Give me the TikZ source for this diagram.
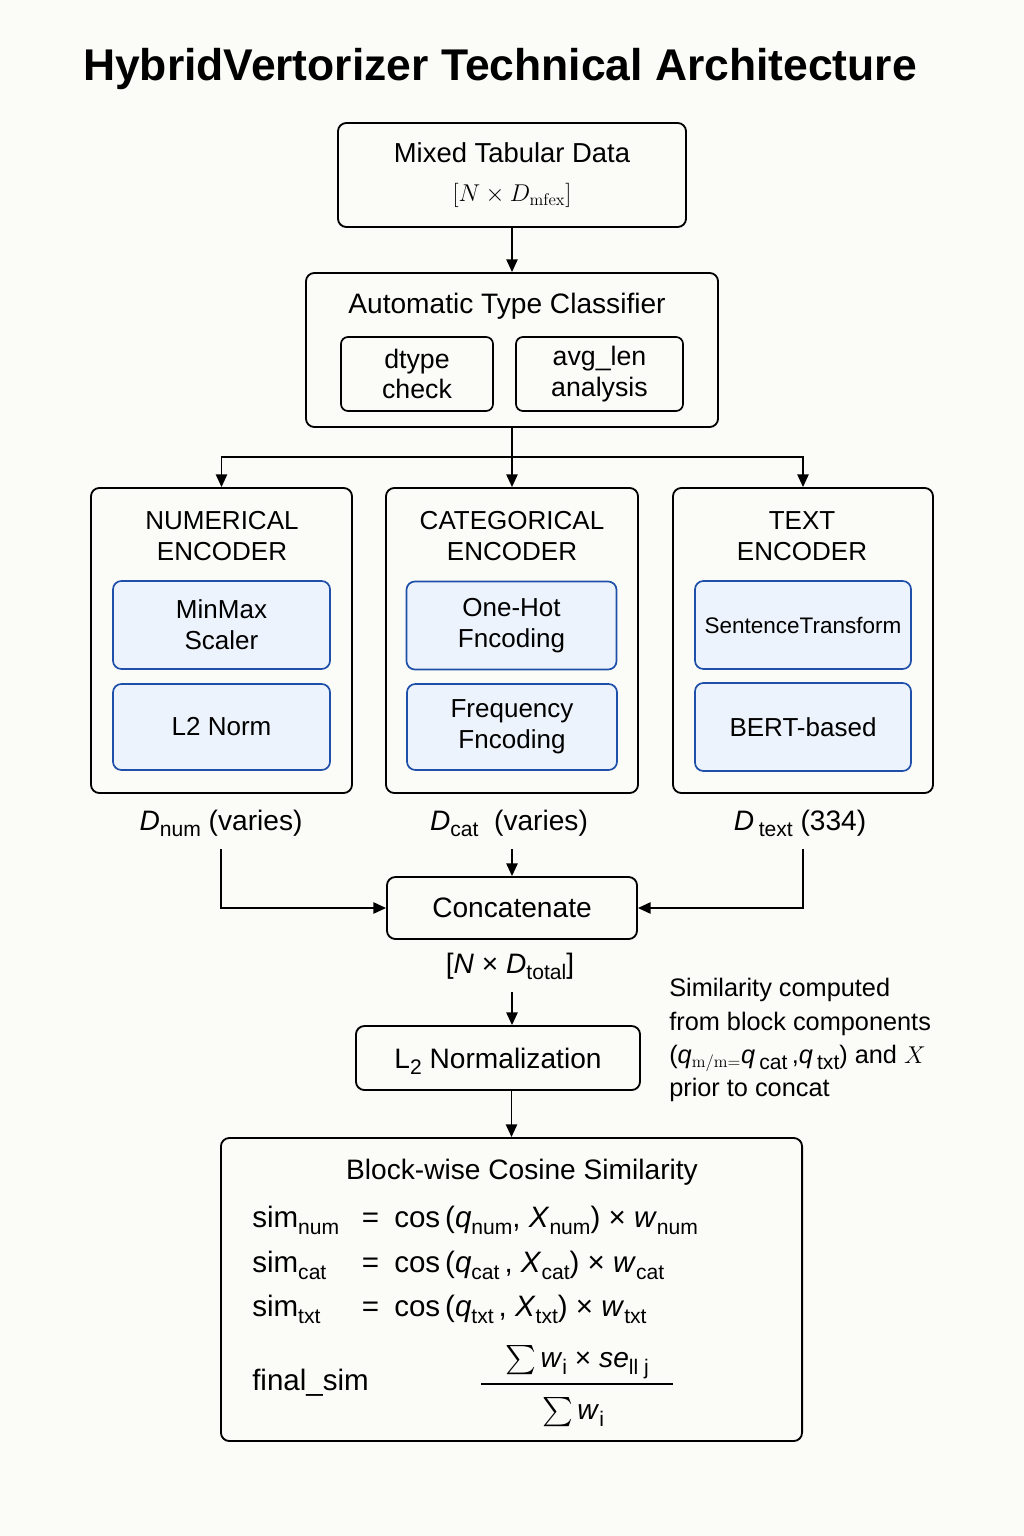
\documentclass[tikz,border=0pt]{standalone}
\usepackage{amsmath}
\usepackage[no-math]{fontspec}
\setmainfont{Liberation Sans}
\usetikzlibrary{arrows.meta,positioning}

\definecolor{paper}{RGB}{251,251,248}
\definecolor{encblue}{RGB}{30,80,170}
\definecolor{encfill}{RGB}{237,243,252}

% lowered subscript as in the drawing
\newcommand{\lo}[1]{\raisebox{-0.45ex}[0.6em][0pt]{\fontsize{15}{15}\selectfont #1}}
\newcommand{\bigsum}{\smash{$\textstyle\sum$}\,}

\tikzset{
  box/.style={draw, line width=1.3pt, rounded corners=6pt, align=center, inner sep=0pt},
  subbox/.style={box, line width=1.2pt, rounded corners=5pt},
  encbox/.style={draw=encblue, fill=encfill, line width=1.2pt, rounded corners=6pt, align=center,
    minimum height=2.2cm, font=\fontsize{18.5}{22}\selectfont},
  arr/.style={-{Triangle[length=9pt,width=8pt]}, line width=1.2pt},
  lbl/.style={font=\fontsize{20}{24}\selectfont, inner sep=1pt},
  eqline/.style={anchor=west, inner sep=0pt, font=\fontsize{21}{24}\selectfont},
}

\begin{document}
\begin{tikzpicture}[x=0.025cm, y=-0.025cm]
    \fill[paper] (0,0) rectangle (1024,1536);
    \useasboundingbox (0,0) rectangle (1024,1536);

    \node[font=\bfseries\fontsize{31.6}{36}\selectfont] (title) at (500,69) {HybridVertorizer Technical Architecture};

    % input and classifier
    \node[box, minimum width=8.7cm, minimum height=2.6cm, font=\fontsize{19.5}{23}\selectfont] (data) at (512,175)
        {Mixed Tabular Data\\[5pt] {\fontsize{18}{22}\selectfont $[N\times D_{\mathrm{mfex}}]$}};
    \node[box, minimum width=10.3cm, minimum height=3.85cm] (classifier) at (512,350) {};
    \node[font=\fontsize{20}{24}\selectfont] (clstitle) at (507,306) {Automatic Type Classifier};
    \node[subbox, minimum width=3.8cm, minimum height=1.85cm, font=\fontsize{19}{21.5}\selectfont] (dtype) at (417,374) {dtype\\check};
    \node[subbox, minimum width=4.175cm, minimum height=1.85cm, font=\fontsize{19}{21.5}\selectfont] (avglen) at (599.5,374) {avg\_len\\analysis};
    \draw[arr] (data) -- (classifier);

    % encoders
    \node[box, minimum width=6.525cm, minimum height=7.625cm] (numenc) at (221.5,640.5) {};
    \node[box, minimum width=6.3cm, minimum height=7.625cm] (catenc) at (512,640.5) {};
    \node[box, minimum width=6.5cm, minimum height=7.625cm] (txtenc) at (803,640.5) {};
    \node[font=\fontsize{18.5}{22}\selectfont, align=center] (numtitle) at (222,536) {NUMERICAL\\ENCODER};
    \node[font=\fontsize{18.5}{22}\selectfont, align=center] (cattitle) at (512,536) {CATEGORICAL\\ENCODER};
    \node[font=\fontsize{18.5}{22}\selectfont, align=center] (txttitle) at (802,536) {TEXT\\ENCODER};

    \node[encbox, minimum width=5.425cm] (minmax) at (221.5,625) {MinMax\\Scaler};
    \node[encbox, minimum width=5.425cm, minimum height=2.15cm] (l2norm) at (221.5,727) {L2 Norm};
    \node[encbox, minimum width=5.25cm] (onehot) at (511.5,625.5) {One-Hot\\Fncoding};
    \node[encbox, minimum width=5.25cm, minimum height=2.15cm] (freq) at (512,727) {Frequency\\Fncoding};
    \node[encbox, minimum width=5.4cm, font=\fontsize{16}{20}\selectfont] (sent) at (803,625) {SentenceTransform};
    \node[encbox, minimum width=5.4cm] (bert) at (803,727) {BERT-based};

    \coordinate (split) at (512,457);
    \draw[line width=1.2pt] (classifier.south) -- (split);
    \draw[arr] (split) -| (numenc.north);
    \draw[arr] (split) -- (catenc.north);
    \draw[arr] (split) -| (txtenc.north);

    % dimensions and concatenation
    \node[lbl] (dnum) at (221,823) {\textit{D}\lo{num} (varies)};
    \node[lbl] (dcat) at (509,823) {\textit{D}\lo{cat}\ \ (varies)};
    \node[lbl] (dtxt) at (800,823) {\textit{D}\,\lo{text} (334)};
    \node[box, minimum width=6.25cm, minimum height=1.55cm, font=\fontsize{20}{24}\selectfont] (concat) at (512,908) {Concatenate};
    \draw[arr, shorten <=8pt] (dnum.south) |- (concat.west);
    \draw[arr, shorten <=8pt] (dcat.south -| concat.north) -- (concat.north);
    \draw[arr, shorten <=8pt] (dtxt.south -| 803,0) |- (concat.east);

    \node[lbl] (dtotal) at (510,966) {[\textit{N} × \textit{D}\lo{total}]};
    \node[box, minimum width=7.1cm, minimum height=1.6cm, font=\fontsize{20}{24}\selectfont] (l2) at (498,1058) {L\lo{2} Normalization};
    \draw[arr, shorten <=8pt] (dtotal.south -| concat.south) -- (l2.north -| concat.south);

    \node[anchor=west, align=left, inner sep=0pt, font=\fontsize{18}{23.5}\selectfont] (note) at (669,1040)
        {Similarity computed\\from block components\\(\textit{q}$_{\mathrm{m/m}=}$\textit{q}\,\lo{cat}\,,\textit{q}\,\lo{txt}) and $X$\\prior to concat};

    % block-wise similarity
    \node[box, minimum width=14.525cm, minimum height=7.575cm] (blocksim) at (511.5,1289.5) {};
    \draw[arr] (l2.south -| blocksim.north) -- (blocksim.north);
    \node[font=\fontsize{20}{24}\selectfont] (bstitle) at (522,1172) {Block-wise Cosine Similarity};
    \node[eqline] (simnum) at (252,1220) {\makebox[78pt][l]{sim\lo{num}}\makebox[23pt][l]{=}cos\,(\textit{q}\lo{num}, \textit{X}\lo{num})\ × \textit{w}\lo{num}};
    \node[eqline] (simcat) at (252,1265) {\makebox[78pt][l]{sim\lo{cat}}\makebox[23pt][l]{=}cos\,(\textit{q}\lo{cat}\,, \textit{X}\lo{cat})\ × \textit{w}\lo{cat}};
    \node[eqline] (simtxt) at (252,1309) {\makebox[78pt][l]{sim\lo{txt}}\makebox[23pt][l]{=}cos\,(\textit{q}\lo{txt}\,, \textit{X}\lo{txt})\ × \textit{w}\lo{txt}};
    \node[eqline] (finalsim) at (252,1383) {final\_sim};
    \node[font=\fontsize{20}{24}\selectfont, inner sep=1pt] (numer) at (577,1359) {\bigsum\textit{w}\lo{i} × \textit{se}\lo{ll j}};
    \node[font=\fontsize{20}{24}\selectfont, inner sep=1pt] (denom) at (573,1411) {\bigsum\textit{w}\lo{i}};
    \draw[line width=0.9pt] (481,1384) -- (673,1384);
\end{tikzpicture}
\end{document}
